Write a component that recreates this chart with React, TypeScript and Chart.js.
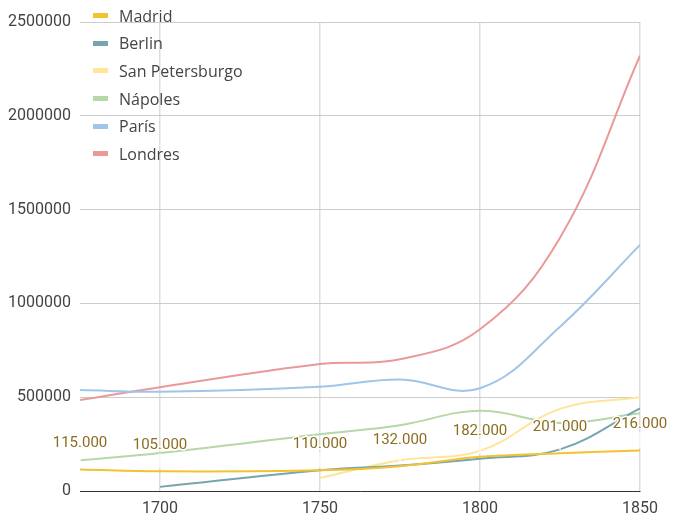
import { useEffect, useRef } from 'react';
import { Chart, registerables } from 'chart.js';

Chart.register(...registerables);

// Years of the data table
const years = [1675, 1700, 1750, 1775, 1800, 1825, 1850];

// Population per city (null = no data)
const madrid = [115000, 105000, 110000, 132000, 182000, 201000, 216000];
const berlin = [null, 22000, 111000, 136000, 172000, 222000, 440000];
const sanPetersburgo = [null, null, 70000, 164000, 214000, 438000, 500000];
const napoles = [164000, 203000, 303000, 351000, 428000, 363000, 414000];
const paris = [538000, 529000, 556000, 594000, 548000, 876000, 1312000];
const londres = [485000, 553000, 677000, 702000, 862000, 1350000, 2320000];

const seriesNames = ['Madrid', 'Berlin', 'San Petersburgo', 'Nápoles', 'París', 'Londres'];
const seriesColors = ['#f1c232', '#76a5af', '#ffe599', '#b6d7a8', '#9fc5e8', '#ea9999'];
const seriesValues = [madrid, berlin, sanPetersburgo, napoles, paris, londres];

const xTicks = [1700, 1750, 1800, 1850];

const formatEs = (n: number) => String(n).replace(/\B(?=(\d{3})+(?!\d))/g, '.');

// Draws the Madrid annotations (white stem + text with white aura)
const annotationPlugin = {
  id: 'madridAnnotations',
  afterDatasetsDraw(chart: Chart) {
    const ctx = chart.ctx;
    const meta = chart.getDatasetMeta(0);
    ctx.save();
    ctx.font = '15px Roboto';
    ctx.textAlign = 'center';
    ctx.textBaseline = 'middle';
    meta.data.forEach((pt: any, i: number) => {
      const v = madrid[i];
      if (v == null) return;
      const x = pt.x;
      const y = pt.y;
      ctx.strokeStyle = 'rgba(255,255,255,0.9)';
      ctx.lineWidth = 1.5;
      ctx.beginPath();
      ctx.moveTo(x, y - 3);
      ctx.lineTo(x, y - 18);
      ctx.stroke();
      const label = formatEs(v);
      ctx.lineJoin = 'round';
      ctx.lineWidth = 3;
      ctx.strokeStyle = '#ffffff';
      ctx.strokeText(label, x, y - 26);
      ctx.fillStyle = '#8b6d1e';
      ctx.fillText(label, x, y - 26);
    });
    ctx.restore();
  },
};

export default function App() {
  const chartRef = useRef<HTMLCanvasElement>(null);
  const chartInstance = useRef<Chart | null>(null);

  useEffect(() => {
    if (!chartRef.current) return;
    const ctx = chartRef.current.getContext('2d');
    if (!ctx) return;
    if (chartInstance.current) chartInstance.current.destroy();

    const datasets = seriesNames.map((name, s) => ({
      label: name,
      data: years.map((yr, i) => ({ x: yr, y: seriesValues[s][i] })),
      borderColor: seriesColors[s],
      backgroundColor: seriesColors[s],
      borderWidth: 2,
      pointRadius: 0,
      tension: 0.4,
      fill: false,
      spanGaps: false,
    }));

    chartInstance.current = new Chart(ctx, {
      type: 'line',
      data: { datasets },
      plugins: [annotationPlugin],
      options: {
        responsive: true,
        maintainAspectRatio: false,
        animation: false,
        layout: { padding: { top: 22, right: 41, left: 0, bottom: 0 } },
        plugins: {
          legend: { display: false },
          tooltip: { enabled: false },
        },
        scales: {
          x: {
            type: 'linear',
            min: 1675,
            max: 1850,
            afterBuildTicks: (scale: any) => {
              scale.ticks = xTicks.map((v) => ({ value: v }));
            },
            afterFit: (scale: any) => {
              scale.height = 39;
            },
            grid: { color: '#dddddd', lineWidth: 1.5, drawTicks: false },
            border: { display: true, color: '#333333', width: 1 },
            ticks: {
              padding: 8,
              color: '#444444',
              font: { family: 'Roboto', size: 16 },
              callback: (v: any) => String(v),
            },
          },
          y: {
            min: 0,
            max: 2500000,
            afterFit: (scale: any) => {
              scale.width = 80;
            },
            grid: { color: '#cccccc', lineWidth: 1, drawTicks: false },
            border: { display: false },
            ticks: {
              stepSize: 500000,
              padding: 9,
              color: '#444444',
              font: { family: 'Roboto', size: 16 },
              callback: (v: any) => String(v),
            },
          },
        },
      },
    });

    return () => {
      if (chartInstance.current) {
        chartInstance.current.destroy();
        chartInstance.current = null;
      }
    };
  }, []);

  return (
    <div style={{ position: 'fixed', left: 0, top: 0, width: 681, height: 530, background: '#fff' }}>
      <canvas ref={chartRef} />
      <div style={{ position: 'absolute', left: 93, top: 2, fontFamily: '"Open Sans", sans-serif', fontSize: 16, color: '#444' }}>
        {seriesNames.map((name, i) => (
          <div key={name} style={{ display: 'flex', alignItems: 'center', height: 27.6 }}>
            <span style={{ display: 'inline-block', width: 15, height: 5, background: seriesColors[i], marginRight: 11 }} />
            <span>{name}</span>
          </div>
        ))}
      </div>
    </div>
  );
}
